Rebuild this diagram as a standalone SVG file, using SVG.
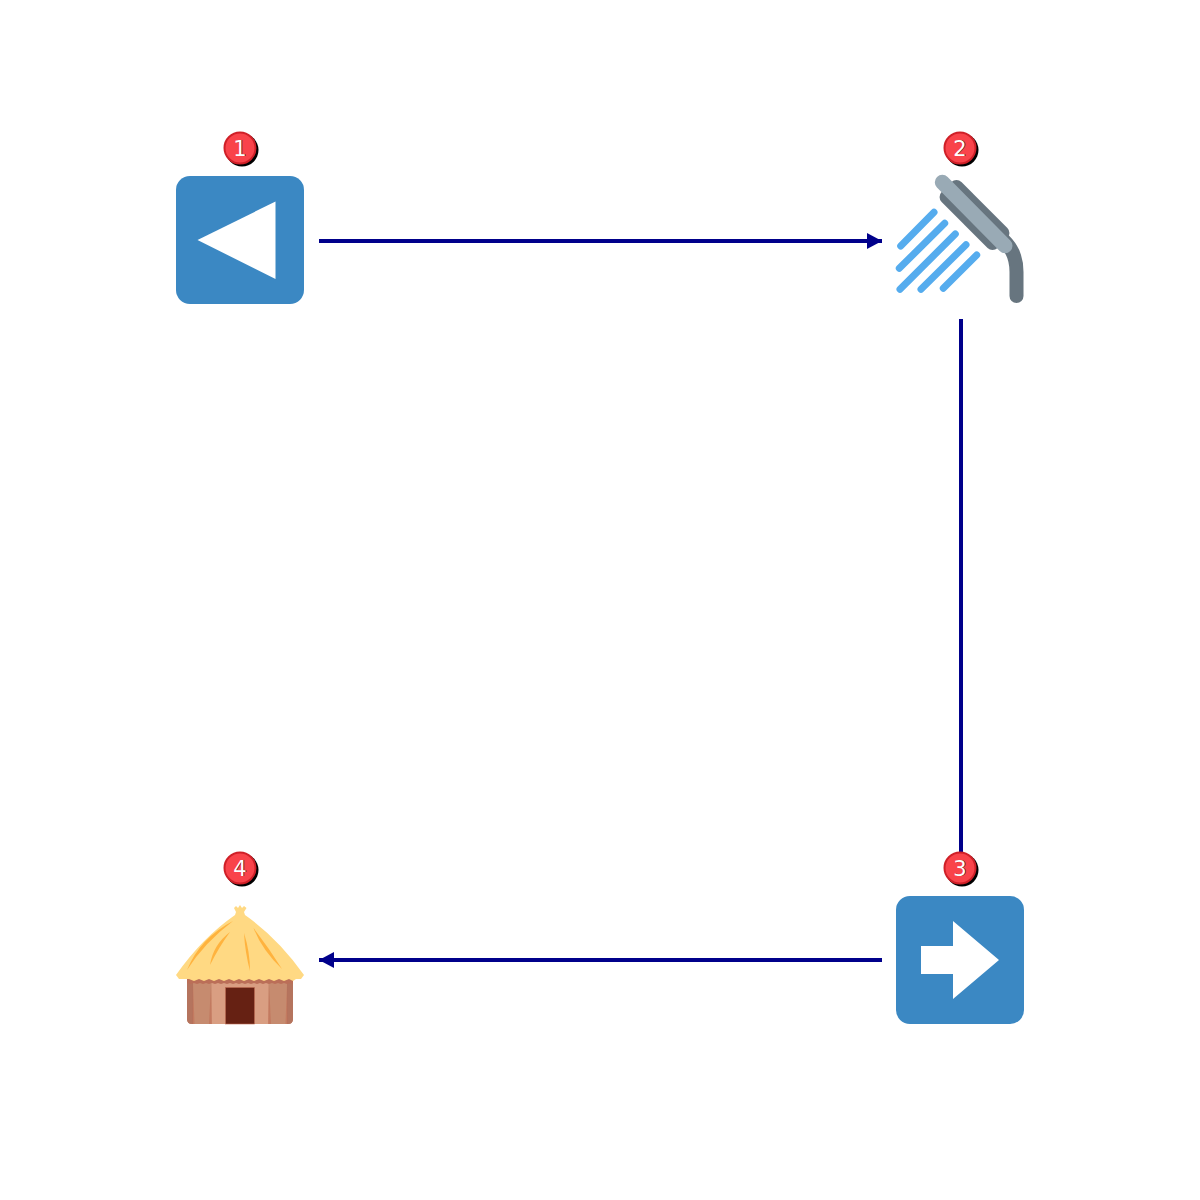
<svg xmlns="http://www.w3.org/2000/svg" width="1200" height="1200" viewBox="0 0 1200 1200">
<style>
.edge{stroke:#00008b;stroke-width:4;fill:none}
.bs{fill:#000}
.bc{fill:#f9434a;stroke:#cf2028;stroke-width:2}
.bt{font-family:"DejaVu Sans",sans-serif;font-size:21px;fill:#fff;text-anchor:middle}
.bts{font-family:"DejaVu Sans",sans-serif;font-size:21px;fill:#5a0a0a;text-anchor:middle}
.tile{fill:#3b88c3}
.w{stroke:#55acee;stroke-width:7;stroke-linecap:round;fill:none}
</style>
<defs>
<marker id="ah" markerUnits="userSpaceOnUse" markerWidth="16" markerHeight="17" refX="15" refY="8" orient="auto"><path d="M0 0L15 8L0 16Z" fill="#00008b"/></marker>
</defs>
<g id="connectors">
<path class="edge" d="M319 241H882" marker-end="url(#ah)"/>
<path class="edge" d="M961 319V860"/>
<path class="edge" d="M882 960H319" marker-end="url(#ah)"/>
</g>
<g id="node1">
<rect class="tile" x="176" y="176" width="128" height="128" rx="14"/>
<path d="M275.500 201.500V279L197.500 240Z" fill="#fff"/>
<circle class="bs" cx="242" cy="150" r="16.500"/><circle class="bc" cx="240" cy="148" r="15.500"/>
<text class="bts" x="240.700" y="156.200">1</text><text class="bt" x="240" y="155.500">1</text>
</g>
<g id="node2">
<path d="M1001 238Q1016.500 250 1016.500 272V296" fill="none" stroke="#67757f" stroke-width="14" stroke-linecap="round"/>
<rect x="935" y="201" width="79" height="28" rx="7" fill="#67757f" transform="rotate(45 974.500 215)"/>
<path d="M942.300 182.300L1005 245.700" fill="none" stroke="#99aab5" stroke-width="15" stroke-linecap="round"/>
<path class="w" d="M900.700 246L934 212.300M899.300 268.300L944.700 223.300M900 289.300L955.300 234M921 289.300L966 244.700M943.300 288.300L976.700 255"/>
<circle class="bs" cx="962" cy="150" r="16.500"/><circle class="bc" cx="960" cy="148" r="15.500"/>
<text class="bts" x="960.700" y="156.200">2</text><text class="bt" x="960" y="155.500">2</text>
</g>
<g id="node3">
<rect class="tile" x="896" y="896" width="128" height="128" rx="14"/>
<path d="M921 946H953V921L999 960L953 999V974H921Z" fill="#fff"/>
<circle class="bs" cx="962" cy="870" r="16.500"/><circle class="bc" cx="960" cy="868" r="15.500"/>
<text class="bts" x="960.700" y="876.200">3</text><text class="bt" x="960" y="875.500">3</text>
</g>
<g id="node4">
<path d="M187 980H293V1019Q293 1024 288 1024H192Q187 1024 187 1019Z" fill="#c68b6f"/>
<path d="M187 980H193V1024H192Q187 1024 187 1019ZM287 980H293V1019Q293 1024 288 1024H287Z" fill="#b5745e"/>
<path d="M211.500 980H268.500V1024H211.500Z" fill="#d99e82"/>
<path d="M193 984L194.500 1024H192.500ZM211 984L212 1024H209ZM269 984L271 1024H268ZM287 984L287.500 1024H285.500Z" fill="#bf6952" opacity=".5"/>
<rect x="225.500" y="987.500" width="29" height="36.500" fill="#662113" stroke="#bf6952" stroke-width=".6"/>
<path d="M187 979H293V984L290 983L287 984L284 983L281 984L278 983L275 984L272 983L269 984L266 983L263 984L260 983L257 984L254 983L251 984L248 983L245 984L242 983L239 984L236 983L233 984L230 983L227 984L224 983L221 984L218 983L215 984L212 983L209 984L206 983L203 984L200 983L197 984L194 983L191 984L187 983Z" fill="#bb6f58"/>
<path d="M234 908L236 906L238 908L240 905L242 908L244 906L246.500 908L244 912L245 915Q278 938 304 975L301 979L296 979L293 981L289 979L284 981L279 979L274 981L269 979L264 981L259 979L254 981L249 979L244 981L239 979L234 981L229 979L224 981L219 979L214 981L209 979L204 981L199 979L194 981L189 979L184 979L179 979L176 975Q202 938 235 915L236 912Z" fill="#ffd983"/>
<path d="M233 921Q200 938 187 970Q204 943 233 921ZM230 932Q213 945 210 965Q219 947 230 932ZM244 933Q245 952 250 971Q250 952 244 933ZM253.500 928Q262 950 282 969Q269 948 253.500 928Z" fill="#ffac33" opacity=".85"/>
<circle class="bs" cx="242" cy="870" r="16.500"/><circle class="bc" cx="240" cy="868" r="15.500"/>
<text class="bts" x="240.700" y="876.200">4</text><text class="bt" x="240" y="875.500">4</text>
</g>
</svg>
